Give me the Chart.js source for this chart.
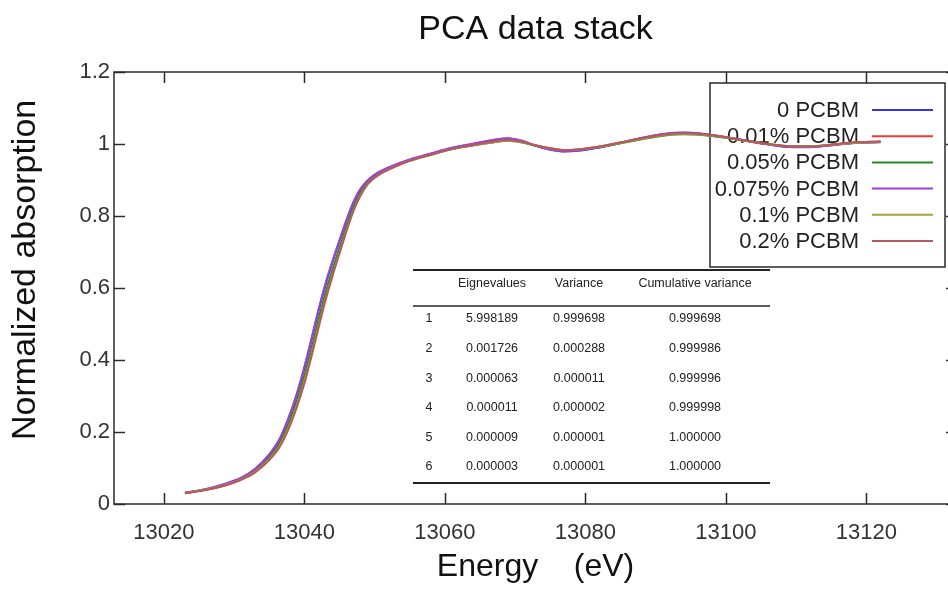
<!DOCTYPE html>
<html>
<head>
<meta charset="utf-8">
<title>PCA data stack</title>
<script src="https://cdn.jsdelivr.net/npm/chart.js@4.4.1/dist/chart.umd.min.js"></script>
<style>
  html, body { margin: 0; padding: 0; background: #fff; }
  .Viewport { width: 948px; height: 589px; overflow: hidden; }
  .ChartBox { position: relative; width: 960px; height: 589px; }
</style>
</head>
<body>
<div class="Viewport">
  <div class="ChartBox"><canvas id="SpectraChart"></canvas></div>
</div>
<script>
const FONT = "'Liberation Sans', Arial, Helvetica, sans-serif";

// Energy grid (eV) shared by all spectra
const energy = [
  13023, 13026, 13029, 13031, 13033, 13035, 13036.5, 13038, 13039, 13040,
  13041, 13042, 13043, 13044, 13045, 13046, 13047, 13048, 13049, 13050,
  13051, 13053, 13055, 13058, 13061, 13064, 13067, 13069, 13071, 13073,
  13075, 13077, 13079, 13082, 13085, 13088, 13091, 13094, 13097, 13100,
  13103, 13106, 13109, 13112, 13115, 13118, 13122,
];

const sampleLabels = ["0 PCBM", "0.01% PCBM", "0.05% PCBM", "0.075% PCBM", "0.1% PCBM", "0.2% PCBM"];
const sampleColors = ["#3434f0", "#f03c3c", "#238a23", "#a040d8", "#a8a038", "#b45a5a"];

const abs0 = [
  0.031, 0.041, 0.057, 0.072, 0.097, 0.137, 0.180, 0.250, 0.308, 0.377,
  0.455, 0.535, 0.608, 0.672, 0.730, 0.787, 0.838, 0.874, 0.898, 0.914,
  0.925, 0.942, 0.956, 0.973, 0.989, 1.000, 1.011, 1.015, 1.008, 0.994,
  0.984, 0.979, 0.981, 0.990, 1.003, 1.016, 1.027, 1.031, 1.027, 1.019,
  1.009, 0.999, 0.992, 0.992, 0.997, 1.003, 1.006,
];
const abs001 = [
  0.030, 0.040, 0.054, 0.069, 0.091, 0.127, 0.166, 0.229, 0.283, 0.347,
  0.421, 0.500, 0.576, 0.642, 0.703, 0.764, 0.820, 0.861, 0.890, 0.908,
  0.921, 0.939, 0.954, 0.971, 0.987, 0.997, 1.007, 1.011, 1.006, 0.996,
  0.988, 0.983, 0.985, 0.993, 1.004, 1.016, 1.027, 1.030, 1.026, 1.018,
  1.008, 0.999, 0.993, 0.993, 0.998, 1.004, 1.007,
];
const abs005 = [
  0.030, 0.040, 0.055, 0.070, 0.093, 0.130, 0.171, 0.236, 0.291, 0.356,
  0.431, 0.511, 0.586, 0.651, 0.711, 0.771, 0.825, 0.865, 0.893, 0.910,
  0.922, 0.940, 0.955, 0.971, 0.986, 0.996, 1.005, 1.009, 1.004, 0.995,
  0.987, 0.982, 0.984, 0.991, 1.002, 1.013, 1.023, 1.027, 1.024, 1.017,
  1.008, 1.000, 0.994, 0.994, 0.998, 1.003, 1.006,
];
const abs0075 = [
  0.031, 0.042, 0.058, 0.073, 0.098, 0.138, 0.182, 0.253, 0.312, 0.381,
  0.459, 0.539, 0.612, 0.675, 0.733, 0.790, 0.840, 0.876, 0.899, 0.915,
  0.926, 0.943, 0.957, 0.974, 0.990, 1.001, 1.012, 1.016, 1.009, 0.995,
  0.985, 0.980, 0.982, 0.991, 1.004, 1.017, 1.028, 1.032, 1.028, 1.019,
  1.009, 0.999, 0.992, 0.991, 0.996, 1.002, 1.005,
];
const abs01 = [
  0.030, 0.040, 0.054, 0.068, 0.090, 0.125, 0.163, 0.225, 0.279, 0.342,
  0.416, 0.495, 0.571, 0.638, 0.700, 0.761, 0.817, 0.859, 0.889, 0.907,
  0.920, 0.938, 0.953, 0.970, 0.986, 0.996, 1.005, 1.009, 1.005, 0.996,
  0.988, 0.983, 0.985, 0.992, 1.003, 1.014, 1.024, 1.028, 1.025, 1.018,
  1.008, 1.000, 0.994, 0.994, 0.998, 1.003, 1.006,
];
const abs02 = [
  0.030, 0.039, 0.053, 0.067, 0.088, 0.122, 0.159, 0.220, 0.273, 0.335,
  0.409, 0.488, 0.565, 0.633, 0.696, 0.758, 0.815, 0.857, 0.888, 0.906,
  0.919, 0.938, 0.953, 0.970, 0.986, 0.997, 1.007, 1.011, 1.006, 0.996,
  0.988, 0.983, 0.985, 0.993, 1.004, 1.016, 1.026, 1.030, 1.027, 1.019,
  1.009, 1.000, 0.994, 0.993, 0.998, 1.004, 1.007,
];
const sampleValues = [abs0, abs001, abs005, abs0075, abs01, abs02];

// PCA summary table
const tableHeader = ["", "Eignevalues", "Variance", "Cumulative variance"];
const componentIds = ["1", "2", "3", "4", "5", "6"];
const eigenvalues = ["5.998189", "0.001726", "0.000063", "0.000011", "0.000009", "0.000003"];
const varianceShare = ["0.999698", "0.000288", "0.000011", "0.000002", "0.000001", "0.000001"];
const cumulativeShare = ["0.999698", "0.999986", "0.999996", "0.999998", "1.000000", "1.000000"];

const xTicks = [13020, 13040, 13060, 13080, 13100, 13120];
const yTicks = [0, 0.2, 0.4, 0.6, 0.8, 1, 1.2];

const yTitle = "Normalized absorption";

// box around the plot with inward tick marks on all four sides
const framePlugin = {
  id: "frame",
  beforeDatasetsDraw(chart) {
    const { ctx, chartArea: a, scales } = chart;
    const len = 11;
    ctx.save();
    ctx.strokeStyle = "#2a2a2a";
    ctx.lineWidth = 1.5;
    ctx.strokeRect(a.left, a.top, a.right - a.left, a.bottom - a.top);
    ctx.beginPath();
    scales.x.ticks.forEach((t) => {
      const px = Math.round(scales.x.getPixelForValue(t.value)) + 0.5;
      ctx.moveTo(px, a.bottom); ctx.lineTo(px, a.bottom - len);
      ctx.moveTo(px, a.top); ctx.lineTo(px, a.top + len);
    });
    scales.y.ticks.forEach((t) => {
      const py = Math.round(scales.y.getPixelForValue(t.value)) + 0.5;
      ctx.moveTo(a.left, py); ctx.lineTo(a.left + len, py);
      ctx.moveTo(a.right, py); ctx.lineTo(a.right - len, py);
    });
    ctx.stroke();
    ctx.restore();
  },
};

// vertical axis caption, sitting a little above the middle of the plot
const yTitlePlugin = {
  id: "yTitle",
  afterDraw(chart) {
    const { ctx, chartArea: a } = chart;
    ctx.save();
    ctx.translate(26, a.top + (a.bottom - a.top) * 0.458);
    ctx.rotate(-Math.PI / 2);
    ctx.font = `34px ${FONT}`;
    ctx.fillStyle = "#111";
    ctx.textAlign = "center";
    ctx.textBaseline = "middle";
    ctx.fillText(yTitle, 0, 0);
    ctx.restore();
  },
};

// legend box in the upper right corner, drawn under the curves
const legendBoxPlugin = {
  id: "legendBox",
  beforeDatasetsDraw(chart) {
    const { ctx, chartArea: a } = chart;
    const right = a.right - 12;
    const left = right - 235;
    const top = a.top + 11;
    const bottom = top + 184;
    ctx.save();
    ctx.fillStyle = "#fff";
    ctx.fillRect(left, top, right - left, bottom - top);
    ctx.strokeStyle = "#2a2a2a";
    ctx.lineWidth = 1.5;
    ctx.strokeRect(left, top, right - left, bottom - top);
    ctx.font = `22px ${FONT}`;
    ctx.textAlign = "right";
    ctx.textBaseline = "middle";
    chart.data.datasets.forEach((ds, i) => {
      const rowY = top + 27 + i * 26.2;
      ctx.fillStyle = "#222";
      ctx.fillText(ds.label, right - 86, rowY + 1);
      ctx.strokeStyle = ds.borderColor;
      ctx.lineWidth = 2;
      ctx.beginPath();
      ctx.moveTo(right - 73, rowY);
      ctx.lineTo(right - 12, rowY);
      ctx.stroke();
    });
    ctx.restore();
  },
};

// eigenvalue / variance table placed inside the plot
const pcaTablePlugin = {
  id: "pcaTable",
  afterDatasetsDraw(chart) {
    const { ctx, chartArea: a } = chart;
    const left = a.left + 299;
    const right = a.left + 656;
    const top = a.top + 198;
    const colX = [left + 16, left + 79, left + 166, left + 282];
    const rule = (y, w) => {
      ctx.lineWidth = w;
      ctx.beginPath();
      ctx.moveTo(left, y);
      ctx.lineTo(right, y);
      ctx.stroke();
    };
    ctx.save();
    ctx.strokeStyle = "#222";
    rule(top, 2);
    rule(top + 36, 1.5);
    rule(top + 213, 2);
    ctx.fillStyle = "#222";
    ctx.font = `12.5px ${FONT}`;
    ctx.textAlign = "center";
    ctx.textBaseline = "middle";
    tableHeader.forEach((h, c) => ctx.fillText(h, colX[c], top + 14));
    componentIds.forEach((id, r) => {
      const rowY = top + 49 + r * 29.6;
      const cells = [id, eigenvalues[r], varianceShare[r], cumulativeShare[r]];
      cells.forEach((txt, c) => ctx.fillText(txt, colX[c], rowY));
    });
    ctx.restore();
  },
};

function buildDatasets() {
  return sampleLabels.map((label, i) => ({
    label,
    data: energy.map((e, k) => ({ x: e, y: sampleValues[i][k] })),
    borderColor: sampleColors[i],
    borderWidth: 2,
    pointRadius: 0,
    fill: false,
    cubicInterpolationMode: "monotone",
    order: sampleLabels.length - 1 - i,
  }));
}

new Chart(document.querySelector("#SpectraChart"), {
  type: "line",
  data: { datasets: buildDatasets() },
  options: {
    responsive: true,
    maintainAspectRatio: false,
    animation: false,
    layout: { padding: { right: 3 } },
    plugins: {
      legend: { display: false },
      tooltip: { enabled: false },
      title: {
        display: true,
        text: "PCA data stack",
        fullSize: false,
        color: "#111",
        font: { family: FONT, size: 34, weight: "normal", lineHeight: 1.2 },
        padding: { top: 9, bottom: 22.2 },
      },
    },
    scales: {
      x: {
        type: "linear",
        min: 13012.9,
        max: 13132.9,
        afterFit(scale) { scale.height = 85; },
        afterBuildTicks(scale) { scale.ticks = xTicks.map((value) => ({ value })); },
        grid: { display: false, drawTicks: false },
        border: { display: false },
        ticks: {
          padding: 16,
          color: "#333",
          font: { family: FONT, size: 22 },
          maxRotation: 0,
          callback: (v) => String(v),
        },
        title: {
          display: true,
          text: "Energy    (eV)",
          color: "#111",
          font: { family: FONT, size: 32, lineHeight: 1.2 },
          padding: { top: 0, bottom: 3 },
        },
      },
      y: {
        type: "linear",
        min: 0,
        max: 1.2,
        afterFit(scale) { scale.width = 114; },
        afterBuildTicks(scale) { scale.ticks = yTicks.map((value) => ({ value })); },
        grid: { display: false, drawTicks: false },
        border: { display: false },
        ticks: {
          padding: 4,
          color: "#333",
          font: { family: FONT, size: 22 },
          callback: (v) => String(Math.round(v * 10) / 10),
        },
      },
    },
  },
  plugins: [framePlugin, yTitlePlugin, legendBoxPlugin, pcaTablePlugin],
});
</script>
</body>
</html>
